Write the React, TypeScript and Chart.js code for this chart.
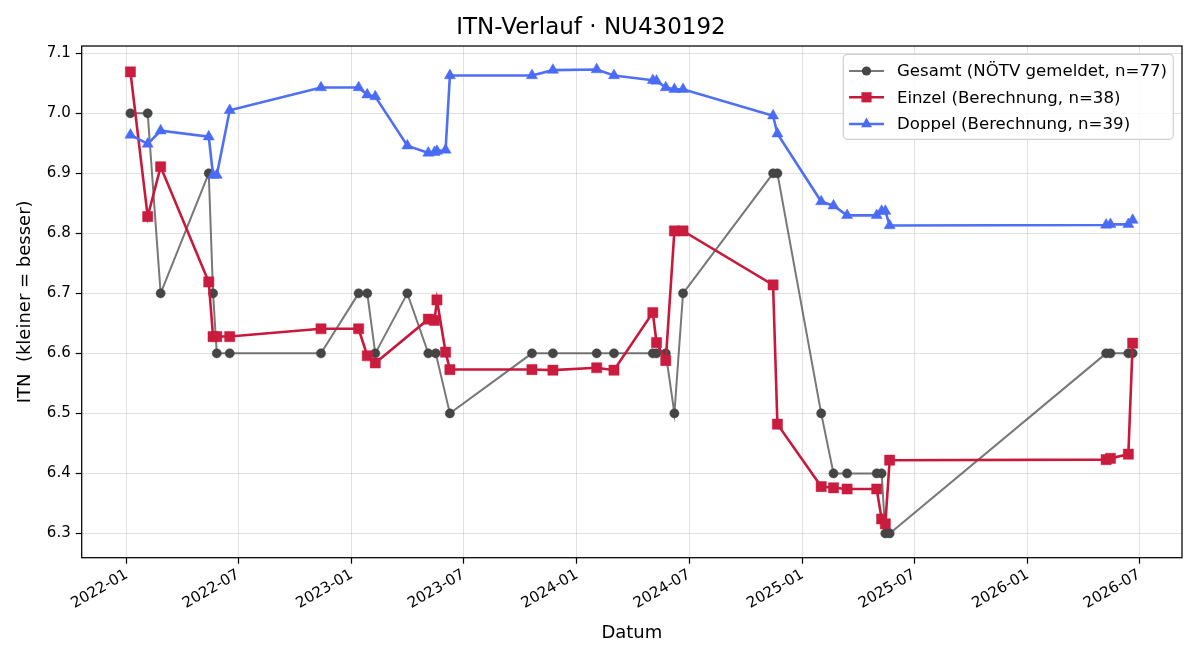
import React, { useEffect, useRef } from 'react';
import { Chart, registerables } from 'chart.js';

Chart.register(...registerables);

// ---------- data ----------
const gesamtDates = [
  '2022-01-07', '2022-02-04', '2022-02-25', '2022-05-14', '2022-05-21', '2022-05-27', '2022-06-17',
  '2022-11-12', '2023-01-12', '2023-01-26', '2023-02-08', '2023-04-01', '2023-05-05', '2023-05-17',
  '2023-06-09', '2023-10-20', '2023-11-23', '2024-02-02', '2024-03-01', '2024-05-03', '2024-05-09',
  '2024-05-24', '2024-06-07', '2024-06-21', '2024-11-14', '2024-11-21', '2025-01-31', '2025-02-20',
  '2025-03-14', '2025-05-01', '2025-05-09', '2025-05-15', '2025-05-22', '2026-05-08', '2026-05-15',
  '2026-06-13', '2026-06-20',
];
const gesamtValues = [
  7.0, 7.0, 6.7, 6.9, 6.7, 6.6, 6.6,
  6.6, 6.7, 6.7, 6.6, 6.7, 6.6, 6.6,
  6.5, 6.6, 6.6, 6.6, 6.6, 6.6, 6.6,
  6.6, 6.5, 6.7, 6.9, 6.9, 6.5, 6.4,
  6.4, 6.4, 6.4, 6.3, 6.3, 6.6, 6.6,
  6.6, 6.6,
];

const einzelDates = [
  '2022-01-07', '2022-02-04', '2022-02-25', '2022-05-14', '2022-05-21', '2022-05-27', '2022-06-17',
  '2022-11-12', '2023-01-12', '2023-01-26', '2023-02-08', '2023-05-05', '2023-05-15', '2023-05-19',
  '2023-06-02', '2023-06-09', '2023-10-20', '2023-11-23', '2024-02-02', '2024-03-01', '2024-05-03',
  '2024-05-09', '2024-05-24', '2024-06-07', '2024-06-21', '2024-11-14', '2024-11-21', '2025-01-31',
  '2025-02-20', '2025-03-14', '2025-05-01', '2025-05-09', '2025-05-15', '2025-05-22', '2026-05-08',
  '2026-05-15', '2026-06-13', '2026-06-20',
];
const einzelValues = [
  7.069, 6.828, 6.911, 6.719, 6.628, 6.628, 6.628,
  6.641, 6.641, 6.596, 6.584, 6.657, 6.655, 6.689,
  6.602, 6.573, 6.573, 6.572, 6.576, 6.572, 6.668,
  6.618, 6.588, 6.804, 6.804, 6.714, 6.482, 6.378,
  6.376, 6.374, 6.374, 6.324, 6.316, 6.422, 6.423,
  6.425, 6.432, 6.617,
];

const doppelDates = [
  '2022-01-07', '2022-02-04', '2022-02-25', '2022-05-14', '2022-05-21', '2022-05-27', '2022-06-17',
  '2022-11-12', '2023-01-12', '2023-01-26', '2023-02-08', '2023-04-01', '2023-05-05', '2023-05-15',
  '2023-05-19', '2023-06-02', '2023-06-09', '2023-10-20', '2023-11-23', '2024-02-02', '2024-03-01',
  '2024-05-03', '2024-05-09', '2024-05-24', '2024-06-07', '2024-06-21', '2024-11-14', '2024-11-21',
  '2025-01-31', '2025-02-20', '2025-03-14', '2025-05-01', '2025-05-09', '2025-05-15', '2025-05-22',
  '2026-05-08', '2026-05-15', '2026-06-13', '2026-06-20',
];
const doppelValues = [
  6.964, 6.949, 6.971, 6.961, 6.897, 6.897, 7.005,
  7.043, 7.043, 7.031, 7.028, 6.946, 6.934, 6.935,
  6.937, 6.939, 7.063, 7.063, 7.072, 7.073, 7.063,
  7.055, 7.054, 7.043, 7.040, 7.040, 6.996, 6.966,
  6.853, 6.846, 6.830, 6.830, 6.837, 6.837, 6.813,
  6.814, 6.815, 6.815, 6.822,
];

const xTickLabels = [
  '2022-01', '2022-07', '2023-01', '2023-07', '2024-01',
  '2024-07', '2025-01', '2025-07', '2026-01', '2026-07',
];
const yTickLabels = ['6.3', '6.4', '6.5', '6.6', '6.7', '6.8', '6.9', '7.0', '7.1'];

const X_MIN_DATE = '2021-10-20';
const X_MAX_DATE = '2026-09-08';
const Y_MIN = 6.2595;
const Y_MAX = 7.1122;

const TITLE = 'ITN-Verlauf · NU430192';
const X_TITLE = 'Datum';
const Y_TITLE = 'ITN  (kleiner = besser)';
const LABEL_GESAMT = 'Gesamt (NÖTV gemeldet, n=77)';
const LABEL_EINZEL = 'Einzel (Berechnung, n=38)';
const LABEL_DOPPEL = 'Doppel (Berechnung, n=39)';

// ---------- helpers ----------
const toMs = (d: string) => Date.parse(d + 'T00:00:00Z');
const toPoints = (dates: string[], values: number[]) =>
  dates.map((d, i) => ({ x: toMs(d), y: values[i] }));

const FONT = "'DejaVu Sans', sans-serif";

const STYLES = [
  { label: LABEL_GESAMT, line: 'rgba(68,68,68,0.72)', point: '#454545', lw: 2, shape: 'circle', r: 4.6 },
  { label: LABEL_EINZEL, line: '#c8193c', point: '#c91c3e', lw: 2.6, shape: 'rect', r: 7.2 },
  { label: LABEL_DOPPEL, line: '#4f6ff5', point: '#4a6bf6', lw: 2.6, shape: 'triangle', r: 6.4 },
];

function drawMarker(ctx: CanvasRenderingContext2D, shape: string, x: number, y: number, r: number) {
  ctx.beginPath();
  if (shape === 'circle') {
    ctx.arc(x, y, r, 0, Math.PI * 2);
  } else if (shape === 'rect') {
    const s = Math.SQRT1_2 * r;
    ctx.rect(x - s, y - s, 2 * s, 2 * s);
  } else {
    for (let k = 0; k < 3; k++) {
      const a = (k * 2 * Math.PI) / 3;
      const px = x + Math.sin(a) * r;
      const py = y - Math.cos(a) * r;
      if (k === 0) ctx.moveTo(px, py);
      else ctx.lineTo(px, py);
    }
    ctx.closePath();
  }
  ctx.fill();
}

const frameLegendPlugin = {
  id: 'frameLegend',
  afterDraw(chart: any) {
    const { ctx, chartArea: a } = chart;
    ctx.save();
    // frame (spines)
    ctx.strokeStyle = '#000';
    ctx.lineWidth = 1.25;
    ctx.strokeRect(a.left, a.top, a.right - a.left, a.bottom - a.top);

    // legend box
    const bx = a.right - 338.7;
    const by = a.top + 8.3;
    const bw = 330;
    const bh = 85;
    ctx.beginPath();
    ctx.roundRect(bx, by, bw, bh, 4);
    ctx.fillStyle = 'rgba(255,255,255,0.85)';
    ctx.fill();
    ctx.strokeStyle = '#d0d0d0';
    ctx.lineWidth = 1.2;
    ctx.stroke();

    const rows = [a.top + 25, a.top + 51.3, a.top + 78];
    ctx.font = `16.6px ${FONT}`;
    ctx.textBaseline = 'middle';
    ctx.textAlign = 'left';
    STYLES.forEach((s, i) => {
      const y = rows[i];
      ctx.strokeStyle = s.line;
      ctx.lineWidth = s.lw;
      ctx.beginPath();
      ctx.moveTo(a.right - 333, y);
      ctx.lineTo(a.right - 298, y);
      ctx.stroke();
      ctx.fillStyle = s.point;
      drawMarker(ctx, s.shape, a.right - 315.5, y, s.r);
      ctx.fillStyle = '#000';
      ctx.fillText(s.label, a.right - 285, y + 1);
    });
    ctx.restore();
  },
};

export default function App() {
  const ref = useRef<HTMLCanvasElement>(null);

  useEffect(() => {
    document.body.style.margin = '0';
    const canvas = ref.current;
    if (!canvas) return;

    const seriesData = [
      toPoints(gesamtDates, gesamtValues),
      toPoints(einzelDates, einzelValues),
      toPoints(doppelDates, doppelValues),
    ];

    const datasets = STYLES.map((s, i) => ({
      label: s.label,
      data: seriesData[i],
      borderColor: s.line,
      backgroundColor: s.point,
      borderWidth: s.lw,
      pointStyle: s.shape,
      pointRadius: s.r,
      pointBackgroundColor: s.point,
      pointBorderColor: s.point,
      pointBorderWidth: 0.5,
      tension: 0,
      order: 3 - i,
    }));

    const xTickValues = xTickLabels.map((l) => toMs(l + '-01'));
    const yTickValues = yTickLabels.map((l) => parseFloat(l));
    const gridColor = 'rgba(176,176,176,0.38)';

    const chart = new Chart(canvas, {
      type: 'line',
      data: { datasets: datasets as any },
      options: {
        animation: false,
        responsive: false,
        devicePixelRatio: 1,
        events: [],
        layout: { padding: { left: 0, right: 18, top: 0, bottom: 0 } },
        plugins: {
          legend: { display: false },
          tooltip: { enabled: false },
          title: {
            display: true,
            text: TITLE,
            color: '#000',
            font: { family: FONT, size: 23, weight: 'normal' },
            padding: { top: 14, bottom: 4.4 },
          },
        },
        scales: {
          x: {
            type: 'linear',
            min: toMs(X_MIN_DATE),
            max: toMs(X_MAX_DATE),
            afterBuildTicks: (scale: any) => {
              scale.ticks = xTickValues.map((v) => ({ value: v }));
            },
            afterFit: (scale: any) => {
              scale.height = 102.3;
            },
            ticks: {
              autoSkip: false,
              minRotation: 30,
              maxRotation: 30,
              padding: 2,
              color: '#000',
              font: { family: FONT, size: 15 },
              callback: (_v: any, i: number) => xTickLabels[i],
            },
            grid: {
              color: gridColor,
              lineWidth: 1,
              tickColor: '#000',
              tickLength: 6,
              tickWidth: 1.2,
            },
            border: { display: false },
            title: {
              display: true,
              text: X_TITLE,
              color: '#000',
              font: { family: FONT, size: 18 },
              padding: { top: 0, bottom: 16 },
            },
          },
          y: {
            type: 'linear',
            min: Y_MIN,
            max: Y_MAX,
            afterBuildTicks: (scale: any) => {
              scale.ticks = yTickValues.map((v) => ({ value: v }));
            },
            afterFit: (scale: any) => {
              scale.width = 81.7;
            },
            ticks: {
              padding: 5,
              color: '#000',
              font: { family: FONT, size: 15 },
              callback: (_v: any, i: number) => yTickLabels[i],
            },
            grid: {
              color: gridColor,
              lineWidth: 1,
              tickColor: '#000',
              tickLength: 6,
              tickWidth: 1.2,
            },
            border: { display: false },
            title: {
              display: true,
              text: Y_TITLE,
              color: '#000',
              font: { family: FONT, size: 18 },
              padding: { top: 15, bottom: 0 },
            },
          },
        },
      },
      plugins: [frameLegendPlugin],
    } as any);

    return () => chart.destroy();
  }, []);

  return (
    <div style={{ width: 1200, height: 660 }}>
      <canvas ref={ref} width={1200} height={660} style={{ display: 'block' }} />
    </div>
  );
}
